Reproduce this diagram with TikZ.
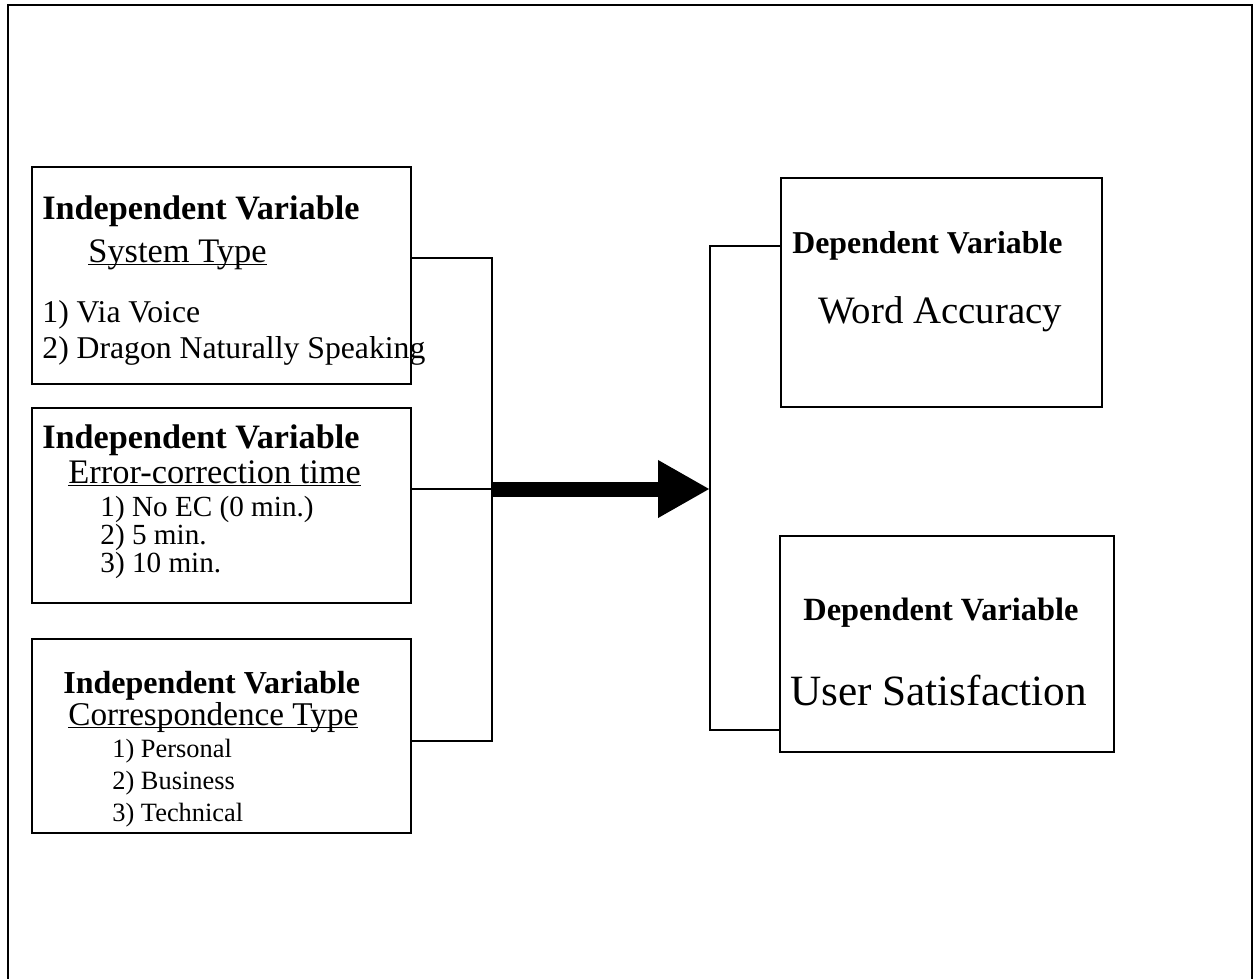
\documentclass[tikz,border=0pt]{standalone}
\usepackage{fontspec}
\setmainfont{Liberation Serif}
\usetikzlibrary{arrows.meta}
\newcommand{\ulword}[1]{\underline{\smash{#1}}}
\tikzset{
	box/.style={draw,line width=0.75pt,inner sep=0pt,rectangle},
	txt/.style={anchor=base west,inner sep=0pt},
	head/.style={txt,font=\fontsize{17.1pt}{20pt}\selectfont\bfseries},
	sub/.style={txt,font=\fontsize{17.2pt}{20pt}\selectfont},
	wire/.style={line width=0.65pt}
}
\begin{document}
\begin{tikzpicture}[x=0.5pt,y=-0.5pt]
	\useasboundingbox (0,0) rectangle (1258,979);
	\clip (0,0) rectangle (1258,979);
	\draw[line width=1.3pt] (8,5) rectangle (1252,1000);
	% independent variables
	\node[box,minimum width=189.5pt,minimum height=108.5pt] (iv1) at (221.5,275.5) {};
	\node[box,minimum width=189.5pt,minimum height=97.5pt] (iv2) at (221.5,505.5) {};
	\node[box,minimum width=189.5pt,minimum height=97pt] (iv3) at (221.5,736) {};
	\node[head] (h1) at (42,219) {Independent Variable};
	\node[sub] (s1) at (88,262) {\ulword{System Type}};
	\node[txt,font=\fontsize{15.85pt}{18pt}\selectfont] (a1) at (42,322) {1) Via Voice};
	\node[txt,font=\fontsize{15.85pt}{18pt}\selectfont] (a2) at (42,358) {2) Dragon Naturally Speaking};
	\node[head] (h2) at (42,448) {Independent Variable};
	\node[sub] (s2) at (68,483) {\ulword{Error-correction time}};
	\node[txt,font=\fontsize{14.6pt}{17pt}\selectfont] (b1) at (100,516) {1) No EC (0 min.)};
	\node[txt,font=\fontsize{14.6pt}{17pt}\selectfont] (b2) at (100,544) {2) 5 min.};
	\node[txt,font=\fontsize{14.6pt}{17pt}\selectfont] (b3) at (100,572) {3) 10 min.};
	\node[head,font=\fontsize{16pt}{19pt}\selectfont\bfseries] (h3) at (63,693) {Independent Variable};
	\node[sub,font=\fontsize{16.6pt}{19pt}\selectfont] (s3) at (68,725) {\ulword{Correspondence Type}};
	\node[txt,font=\fontsize{13.2pt}{16pt}\selectfont] (c1) at (112,757) {1) Personal};
	\node[txt,font=\fontsize{13.2pt}{16pt}\selectfont] (c2) at (112,789) {2) Business};
	\node[txt,font=\fontsize{13.2pt}{16pt}\selectfont] (c3) at (112,821) {3) Technical};
	% dependent variables
	\node[box,minimum width=160.5pt,minimum height=114.5pt] (dv1) at (941.5,292.5) {};
	\node[box,minimum width=167pt,minimum height=108pt] (dv2) at (947,644) {};
	\node[head,font=\fontsize{15.9pt}{19pt}\selectfont\bfseries] (h4) at (792,253) {Dependent Variable};
	\node[txt,font=\fontsize{19.4pt}{23pt}\selectfont] (w1) at (818,323) {Word Accuracy};
	\node[head,font=\fontsize{16.2pt}{19pt}\selectfont\bfseries] (h5) at (803,620) {Dependent Variable};
	\node[txt,font=\fontsize{21.6pt}{25pt}\selectfont] (u1) at (790,705) {User Satisfaction};
	% connectors
	\coordinate (j1) at (492,258);
	\coordinate (j2) at (492,489);
	\coordinate (j3) at (492,741);
	\coordinate (k1) at (710,246);
	\coordinate (k2) at (710,489);
	\coordinate (k3) at (710,730);
	\draw[wire] (iv1.east |- j1) -- (j1) -- (j3) -- (iv3.east |- j3);
	\draw[wire] (iv2.east |- j2) -- (j2);
	\draw[wire] (dv1.west |- k1) -- (k1) -- (k3) -- (dv2.west |- k3);
	\draw[line width=7.5pt,-{Triangle[length=26pt,width=27pt]}] (j2) -- (k2);
\end{tikzpicture}
\end{document}
